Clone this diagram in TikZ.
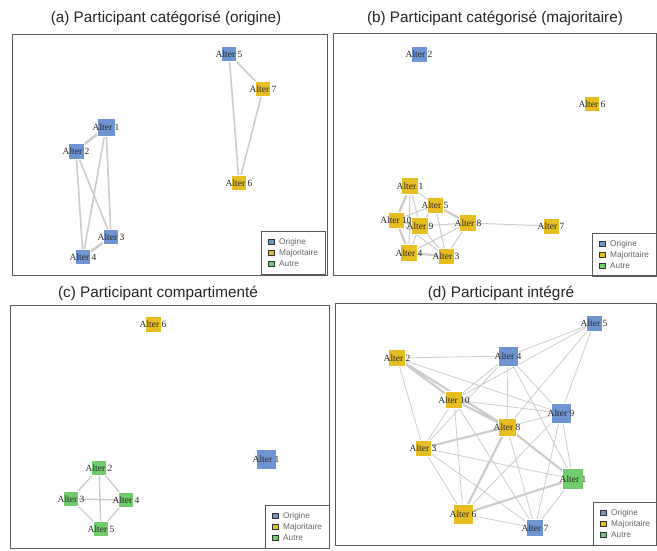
\documentclass[tikz,border=0pt]{standalone}
\usepackage{fontspec}
\setmainfont{Liberation Serif}
\setsansfont{Liberation Sans}
\usetikzlibrary{backgrounds}
\definecolor{origcol}{HTML}{6E94D2}
\definecolor{majcol}{HTML}{E6BE22}
\definecolor{autcol}{HTML}{70CC6C}
\definecolor{tiecol}{HTML}{D0CBCB}
\newcommand{\tiewidth}{1pt}

\tikzset{
  sq/.style={minimum size=#1pt},
  alter/.style={rectangle, inner sep=0pt, draw=white, line width=.3pt},
  orig/.style={alter, fill=origcol},
  maj/.style={alter, fill=majcol},
  aut/.style={alter, fill=autcol},
  lab/.style={font=\fontsize{9.5}{10}\selectfont, text=black!85, inner sep=0pt},
  tie/.style={draw=tiecol, line width=\tiewidth},
  strong/.style={draw=tiecol, line width=2.2pt},
  cadre/.style={draw=black!65, line width=.8pt},
  titre/.style={font=\sffamily\fontsize{15.3}{17}\selectfont, text=black!85},
  legbox/.style={draw=black!65, line width=.6pt, minimum width=64pt, minimum height=43pt, inner sep=0pt},
  legkey/.style={draw=black!80, line width=.3pt, minimum width=6pt, minimum height=5pt, inner sep=0pt},
  legtext/.style={font=\sffamily\fontsize{8.3}{9}\selectfont, text=black!60, anchor=west, inner sep=0pt}
}

% legende : #1 prefixe, #2 coin haut gauche
\newcommand{\legende}[2]{%
  \node (#1box) at (#2) [legbox, anchor=north west] {};
  \node (#1ko) at ([xshift=10pt,yshift=-11pt]#1box.north west) [legkey, fill=origcol] {};
  \node (#1km) at ([yshift=-11pt]#1ko) [legkey, fill=majcol] {};
  \node (#1ka) at ([yshift=-11pt]#1km) [legkey, fill=autcol] {};
  \node (#1to) at ([xshift=8pt]#1ko) [legtext] {Origine};
  \node (#1tm) at ([xshift=8pt]#1km) [legtext] {Majoritaire};
  \node (#1ta) at ([xshift=8pt]#1ka) [legtext] {Autre};
}

\begin{document}
\begin{tikzpicture}[x=1pt, y=-1pt]
\useasboundingbox (0,0) rectangle (657,550);

%% (a)
\node (ta) at (166,18) [titre] {(a) Participant catégorisé (origine)};
\draw[cadre] (12,34) rectangle (327,275);
\node (a1) at (106,127) [orig, sq=18, label={[lab]center:Alter 1}] {};
\node (a2) at (76,151) [orig, sq=16, label={[lab]center:Alter 2}] {};
\node (a3) at (111,237) [orig, sq=15, label={[lab]center:Alter 3}] {};
\node (a4) at (83,257) [orig, sq=15, label={[lab]center:Alter 4}] {};
\node (a5) at (229,54) [orig, sq=15, label={[lab]center:Alter 5}] {};
\node (a7) at (263,89) [maj, sq=15, label={[lab]center:Alter 7}] {};
\node (a6) at (239,183) [maj, sq=15, label={[lab]center:Alter 6}] {};
\legende{la}{261,231}
\begin{scope}[on background layer]
\draw[strong, line width=2.6pt]
(a1) to (a2)
(a3) to (a4);
\draw[tie, line width=1.6pt]
(a1) to (a3)
(a1) to (a4)
(a2) to (a3)
(a2) to (a4)
(a5) to (a7)
(a5) to (a6)
(a7) to (a6);
\end{scope}

%% (b)
\node (tb) at (495,18) [titre] {(b) Participant catégorisé (majoritaire)};
\draw[cadre] (333,33) rectangle (656,275);
\node (b2) at (419,54) [orig, sq=16, label={[lab]center:Alter 2}] {};
\node (b6) at (592,104) [maj, sq=15, label={[lab]center:Alter 6}] {};
\node (b1) at (410,186) [maj, sq=17, label={[lab]center:Alter 1}] {};
\node (b5) at (435,205) [maj, sq=16, label={[lab]center:Alter 5}] {};
\node (b10) at (396,220) [maj, sq=16, label={[lab]center:Alter 10}] {};
\node (b9) at (420,226) [maj, sq=17, label={[lab]center:Alter 9}] {};
\node (b8) at (468,223) [maj, sq=17, label={[lab]center:Alter 8}] {};
\node (b7) at (551,226) [maj, sq=16, label={[lab]center:Alter 7}] {};
\node (b4) at (409,253) [maj, sq=17, label={[lab]center:Alter 4}] {};
\node (b3) at (446,256) [maj, sq=16, label={[lab]center:Alter 3}] {};
\legende{lb}{592,233}
\begin{scope}[on background layer]
\draw[strong]
(b1) to (b10)
(b10) to (b4)
(b5) to (b8)
(b4) to (b3)
(b10) to (b9);
\draw[tie]
(b1) to (b5)
(b1) to (b9)
(b1) to (b4)
(b10) to (b5)
(b10) to (b3)
(b9) to (b5)
(b9) to (b8)
(b9) to (b4)
(b9) to (b3)
(b5) to (b3)
(b8) to (b3)
(b8) to (b4)
(b8) to (b7);
\end{scope}

%% (c)
\node (tc) at (158,293) [titre] {(c) Participant compartimenté};
\draw[cadre] (10,305) rectangle (329,548);
\node (c6) at (153,324) [maj, sq=16, label={[lab]center:Alter 6}] {};
\node (c1) at (266,459) [orig, sq=20, label={[lab]center:Alter 1}] {};
\node (c2) at (99,468) [aut, sq=15, label={[lab]center:Alter 2}] {};
\node (c3) at (71,499) [aut, sq=15, label={[lab]center:Alter 3}] {};
\node (c4) at (126,500) [aut, sq=15, label={[lab]center:Alter 4}] {};
\node (c5) at (101,529) [aut, sq=15, label={[lab]center:Alter 5}] {};
\legende{lc}{265,505}
\begin{scope}[on background layer]
\draw[tie, line width=1.4pt]
(c2) to (c3)
(c2) to (c4)
(c2) to (c5)
(c3) to (c4)
(c3) to (c5)
(c4) to (c5);
\end{scope}

%% (d)
\node (td) at (501,293) [titre] {(d) Participant intégré};
\draw[cadre] (335,303) rectangle (656,545);
\node (d5) at (594,323) [orig, sq=16, label={[lab]center:Alter 5}] {};
\node (d2) at (397,358) [maj, sq=17, label={[lab]center:Alter 2}] {};
\node (d4) at (508,356) [orig, sq=20, label={[lab]center:Alter 4}] {};
\node (d10) at (454,400) [maj, sq=17, label={[lab]center:Alter 10}] {};
\node (d9) at (561,413) [orig, sq=20, label={[lab]center:Alter 9}] {};
\node (d8) at (507,427) [maj, sq=18, label={[lab]center:Alter 8}] {};
\node (d3) at (423,448) [maj, sq=16, label={[lab]center:Alter 3}] {};
\node (d1) at (573,479) [aut, sq=21, label={[lab]center:Alter 1}] {};
\node (d6) at (463,514) [maj, sq=20, label={[lab]center:Alter 6}] {};
\node (d7) at (535,528) [orig, sq=17, label={[lab]center:Alter 7}] {};
\legende{ld}{593,502}
\begin{scope}[on background layer]
\draw[strong]
(d2) to (d10)
(d2) to (d8)
(d10) to (d8)
(d8) to (d3)
(d8) to (d1)
(d6) to (d1)
(d8) to (d6);
\draw[tie, line width=.8pt]
(d2) to (d4)
(d2) to (d9)
(d2) to (d3)
(d4) to (d5)
(d4) to (d10)
(d4) to (d8)
(d4) to (d3)
(d4) to (d9)
(d4) to (d1)
(d5) to (d10)
(d5) to (d8)
(d5) to (d9)
(d10) to (d9)
(d10) to (d3)
(d10) to (d6)
(d10) to (d7)
(d8) to (d9)
(d8) to (d7)
(d9) to (d6)
(d9) to (d7)
(d9) to (d1)
(d3) to (d1)
(d3) to (d6)
(d3) to (d7)
(d6) to (d7)
(d1) to (d7);
\end{scope}

\end{tikzpicture}
\end{document}
